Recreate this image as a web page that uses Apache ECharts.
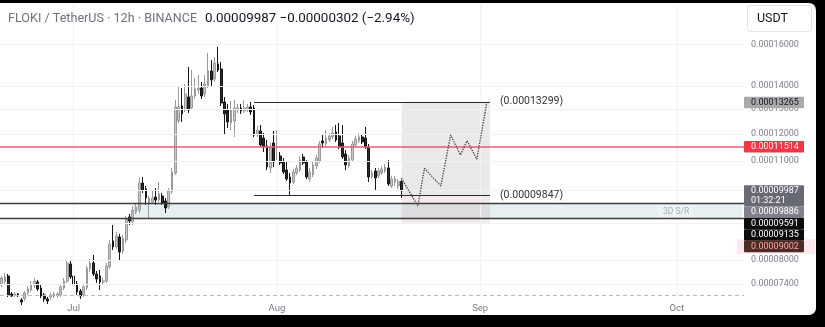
<!DOCTYPE html>
<html><head><meta charset="utf-8">
<script src="https://cdn.jsdelivr.net/npm/echarts/dist/echarts.min.js"></script>
<style>
html,body{margin:0;padding:0;background:#000;width:825px;height:327px;overflow:hidden}
#panel{position:absolute;left:-10px;top:3px;width:825.5px;height:312px;background:#fff;border-radius:7px}
#chart{position:absolute;left:0;top:0;width:825px;height:327px}
</style></head><body><div id="panel"></div><div id="chart"></div>
<script>
// Prices are in units of 1e-8 USDT
const PRICE_UNIT = 1e-8;
const FONT = 'Roboto, "Noto Sans", sans-serif';

// 12h candles starting 2025-06-20 00:00 (UTC)
const candleOpen = [7380,7451,7597,7169,7146,7169,7031,7054,7192,7261,7380,7451,7309,7146,7054,7100,7123,7146,7146,7309,
7475,7896,7597,7404,7238,7146,7309,7769,7921,7646,7597,7451,7475,7820,8501,8339,8611,8232,8528,9183,
9037,9332,9391,10244,10048,9575,9637,9793,9698,9825,9668,9483,9952,10579,12504,13123,12953,13507,13038,13551,
13813,13903,13639,13994,14684,14312,15020,14779,13292,12953,12424,12504,12953,13038,12912,12953,13080,13038,11954,12108,
11839,11539,10750,11650,11101,11174,10960,10680,10444,10277,10579,10680,11138,10960,10376,10511,10820,10995,11725,11613,
11762,11877,12069,11916,11650,11246,10820,11029,11576,11725,11877,11839,11502,10444,10647,10477,10579,10647,10750,10146,
10277,10146,10289];
const candleHigh = [7597,7670,7645,7215,7215,7192,7077,7238,7356,7475,7548,7499,7404,7192,7100,7192,7215,7215,7404,7548,
7971,7997,7670,7475,7285,7380,7845,8023,8128,7719,7744,7548,7921,8528,8950,8751,8695,8667,9213,9272,
9514,9575,10410,10444,10146,9825,10015,10081,10277,9920,9762,10081,10750,13376,13949,13904,14084,14876,14731,14358,
14498,14175,14498,15560,15212,15361,15864,15116,13507,13207,13334,13376,13207,13207,13376,13207,13292,13165,12305,12345,
12031,11762,11650,12108,12146,11318,11101,10960,10579,10715,10855,11174,11246,11029,10750,10960,11210,11725,11954,12146,
12031,12265,12345,12424,12345,11390,11210,11725,11916,12031,11992,12265,11613,10680,10750,10750,10820,10890,11029,10477,
10477,10376,10344];
const candleLow = [7333,7404,7100,7100,7100,7100,6920,7009,7146,7215,7309,7238,7077,6987,6942,7031,7077,7077,7100,7261,
7428,7523,7333,7146,7054,7100,7261,7695,7597,7428,7261,7380,7428,7769,8258,8285,7997,8154,8447,8950,
8950,9272,9302,9920,9545,9154,9575,9545,9637,9545,9302,9422,9888,10511,12424,12464,12871,12830,12953,13420,
13639,13420,13507,13903,13949,14175,14638,13123,11954,12226,12146,11877,12830,12789,12830,12871,12748,11877,11877,11502,
11318,10680,10579,10785,11029,10855,10545,10310,9857,10211,10511,10613,10855,10376,10277,10444,10715,10925,11464,11539,
11688,11800,11688,11427,11065,10680,10750,10960,11502,11650,11613,11427,10277,10376,10015,10410,10511,10579,10146,10081,
10146,10048,9762];
const candleClose = [7548,7572,7146,7123,7169,7146,6987,7192,7285,7404,7475,7285,7123,7054,7009,7146,7169,7169,7333,7475,
7921,7572,7380,7215,7123,7333,7794,7921,7646,7523,7451,7475,7845,8420,8339,8639,8206,8584,9124,9065,
9391,9483,10244,10015,9762,9762,9762,9698,9888,9606,9453,9983,10613,13080,13080,12789,13639,12953,13551,13859,
13903,13551,14084,14684,14265,15068,14731,13250,12789,12464,12953,13038,13038,12912,13038,13080,12871,11954,12146,11576,
11502,10785,11502,10960,11464,10925,10613,10376,10244,10613,10750,11029,10925,10444,10613,10855,11101,11613,11650,11839,
11916,12031,11762,11502,11138,10855,11101,11613,11800,11877,11688,11502,10444,10579,10410,10647,10715,10785,10211,10376,
10376,10289,9987];

// Axis
const SLOT_START = Date.UTC(2025, 5, 20);
const SLOT_COUNT = 227;
const categories = [];
for (let i = 0; i < SLOT_COUNT; i++) {
  categories.push(new Date(SLOT_START + i * 43200000).toISOString().slice(0, 16).replace('T', ' '));
}
const monthStarts = ['2025-07-01 00:00','2025-08-01 00:00','2025-09-01 00:00','2025-10-01 00:00'];
const monthLabels = ['Jul','Aug','Sep','Oct'];
const priceTicks = [16000,14000,13000,12000,11000,10000,9000,8000,7400];
const Y_MIN = 7077, Y_MAX = 18214;

// Drawings
const srTop = 9591, srBottom = 9135;
const srStart = '2025-07-10 00:00', srEnd = categories[SLOT_COUNT - 1];
const redLevel = 11514;
const dashedLevel = 7140;
const rangeTop = 13299, rangeBottom = 9847;
const rangeStart = '2025-07-28 12:00', rangeEnd = '2025-09-02 12:00';
const zoneStart = '2025-08-20 00:00', zoneEnd = '2025-09-02 12:00', zoneLow = 9002;
const projDates = ['2025-08-20 00:00','2025-08-22 12:00','2025-08-23 12:00','2025-08-26 00:00','2025-08-27 12:00','2025-08-29 00:00','2025-08-30 00:00','2025-08-31 12:00','2025-09-02 00:00'];
const projValues = [10400,9514,10740,10146,11954,11210,11736,11055,13265];

// Price-scale tags
const tagValues = [13265, 11514, 9987, 9886, 9591, 9135, 9002];
const tagExtra = ['', '', '01:32:21', '', '', '', ''];
const tagBg = ['#a9a9a9','#f23645','#676a75','#7e818b','#0c0c0c','#0c0c0c','#4f2b25'];
const tagFg = ['#131722','#ffffff','#ffffff','#ffffff','#ffffff','#ffffff','#f6a3a3'];

const fmt = v => (v * PRICE_UNIT).toFixed(8);
const candles = candleOpen.map((o, i) => [o, candleClose[i], candleLow[i], candleHigh[i]]);

const chart = echarts.init(document.getElementById('chart'), null, {renderer: 'canvas'});
const option = {
  animation: false,
  backgroundColor: 'transparent',
  grid: {left: 0, right: 81, top: 4, bottom: 29},
  xAxis: {
    type: 'category', data: categories, boundaryGap: true,
    axisLine: {show: false}, axisTick: {show: false}, splitLine: {show: false},
    axisLabel: {
      interval: (i, v) => monthStarts.includes(v),
      formatter: v => monthLabels[monthStarts.indexOf(v)] || '',
      color: '#787b86', fontSize: 9.5, fontFamily: FONT, margin: 6
    }
  },
  yAxis: {
    type: 'log', logBase: 10, min: Y_MIN, max: Y_MAX, position: 'right',
    axisLine: {show: false}, axisTick: {show: false}, axisLabel: {show: false}, splitLine: {show: false}
  },
  series: [
    {
      type: 'line', data: [], z: 1, silent: true,
      markLine: {
        silent: true, symbol: 'none', animation: false,
        lineStyle: {color: '#f0f2f5', width: 1, type: 'solid'},
        label: {show: true, position: 'end', distance: 7, color: '#7e818b', fontSize: 9, fontFamily: FONT, formatter: p => fmt(p.value)},
        data: priceTicks.map(v => ({yAxis: v})).concat(monthStarts.map(m => ({xAxis: m, label: {show: false}})))
      }
    },
    {
      type: 'line', data: [], z: 2, silent: true,
      markArea: {
        silent: true, animation: false,
        data: [
          [{xAxis: srStart, yAxis: srTop, itemStyle: {color: 'rgba(190,212,222,0.38)'}}, {xAxis: srEnd, yAxis: srBottom}],
          [{xAxis: zoneStart, yAxis: rangeTop, itemStyle: {color: 'rgba(120,120,120,0.16)'}}, {xAxis: zoneEnd, yAxis: rangeBottom}],
          [{xAxis: zoneStart, yAxis: rangeBottom, itemStyle: {color: 'rgba(175,130,135,0.17)'}}, {xAxis: zoneEnd, yAxis: zoneLow}]
        ]
      }
    },
    {
      type: 'candlestick', z: 3, data: candles, barWidth: 2.2, clip: true,
      itemStyle: {color: '#c6c6c6', color0: '#2a2a2a', borderColor: '#9a9a9a', borderColor0: '#151515', borderWidth: 1}
    },
    {
      type: 'line', data: [], z: 4, silent: true,
      markLine: {
        silent: true, symbol: 'none', animation: false,
        label: {show: false},
        data: [
          {yAxis: redLevel, lineStyle: {color: '#ef5a70', width: 1.5, type: 'solid'}},
          {yAxis: srTop, lineStyle: {color: '#3d3d3d', width: 1.3, type: 'solid'}},
          {yAxis: srBottom, lineStyle: {color: '#3d3d3d', width: 1.3, type: 'solid'}},
          {yAxis: dashedLevel, lineStyle: {color: '#b8bbc3', width: 1, type: [4, 3]}},
          [{xAxis: rangeStart, yAxis: rangeTop, lineStyle: {color: '#2b2b2b', width: 1.2, type: 'solid'},
            label: {show: true, position: 'end', distance: 10, formatter: '(' + fmt(rangeTop) + ')', color: '#333', fontSize: 10.5, fontFamily: FONT}},
           {xAxis: rangeEnd, yAxis: rangeTop}],
          [{xAxis: rangeStart, yAxis: rangeBottom, lineStyle: {color: '#2b2b2b', width: 1.2, type: 'solid'},
            label: {show: true, position: 'end', distance: 10, formatter: '(' + fmt(rangeBottom) + ')', color: '#333', fontSize: 10.5, fontFamily: FONT}},
           {xAxis: rangeEnd, yAxis: rangeBottom}]
        ]
      }
    },
    {
      type: 'line', z: 5, silent: true, symbol: 'none',
      data: projDates.map((d, i) => [d, projValues[i]]),
      lineStyle: {type: 'dotted', color: '#3a3a3a', width: 1.3}
    }
  ]
};
chart.setOption(option);

const py = v => chart.convertToPixel({yAxisIndex: 0}, v);
const gfx = [];
// header
gfx.push({type: 'text', x: 8, y: 19, z: 100, style: {text: 'FLOKI / TetherUS · 12h · BINANCE', fill: '#6f727c', font: '12.6px ' + FONT, verticalAlign: 'middle'}});
gfx.push({type: 'text', x: 205, y: 19, z: 100, style: {text: '0.00009987 \u22120.00000302 (\u22122.94%)', fill: '#131722', font: '13.4px ' + FONT, verticalAlign: 'middle'}});
// currency box
gfx.push({type: 'rect', z: 100, shape: {x: 747.5, y: 5.5, width: 64, height: 26, r: 3}, style: {fill: '#fff', stroke: '#e0e3eb', lineWidth: 1}});
gfx.push({type: 'text', x: 757, y: 19, z: 101, style: {text: 'USDT', fill: '#131722', font: '12.5px ' + FONT, verticalAlign: 'middle'}});
// 3D S/R label
const srMid = (py(srTop) + py(srBottom)) / 2;
gfx.push({type: 'rect', z: 90, shape: {x: 658, y: srMid - 6, width: 35, height: 12}, style: {fill: 'rgba(255,255,255,0.35)'}});
gfx.push({type: 'text', x: 663, y: srMid + 0.5, z: 91, style: {text: '3D S/R', fill: '#9db2bb', font: '8.5px ' + FONT, verticalAlign: 'middle'}});
// price-scale tags (stacked like the scale does)
let prevBottom = -1e9;
const LINE_H = 11.5;
tagValues.forEach((v, i) => {
  const lines = [fmt(v)].concat(tagExtra[i] ? [tagExtra[i]] : []);
  const h = LINE_H * lines.length - (lines.length > 1 ? 2 : 0);
  let top = py(v) - LINE_H / 2;
  if (top < prevBottom) top = prevBottom;
  prevBottom = top + h;
  if (i === tagValues.length - 1) {
    gfx.push({type: 'rect', z: 98, shape: {x: 737, y: top - 1.5, width: 78, height: h + 3}, style: {fill: '#fce8ee'}});
  }
  gfx.push({type: 'rect', z: 100, shape: {x: 744, y: top, width: 60, height: h, r: 1}, style: {fill: tagBg[i]}});
  lines.forEach((t, k) => {
    gfx.push({type: 'text', x: 751, y: top + LINE_H / 2 + k * 9.7, z: 101, style: {text: t, fill: tagFg[i], font: '9px ' + FONT, verticalAlign: 'middle'}});
  });
});
chart.setOption({graphic: gfx});
</script></body></html>
